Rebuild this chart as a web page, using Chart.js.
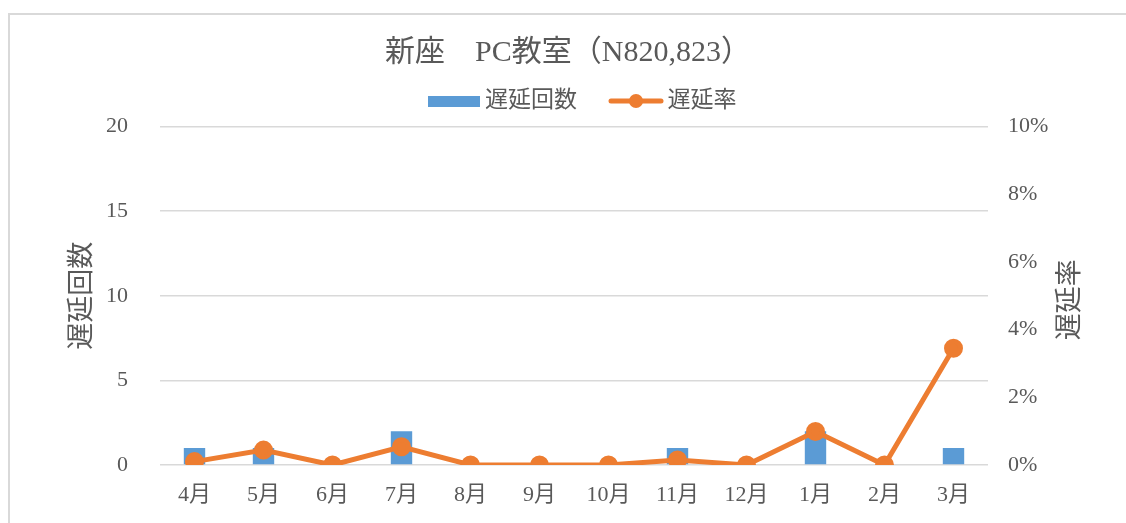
<!DOCTYPE html>
<html lang="ja">
<head>
    <meta charset="UTF-8">
    <title>新座 PC教室（N820,823）</title>
    <script src="https://cdn.jsdelivr.net/npm/chart.js"></script>
    <style>
        html, body { margin: 0; padding: 0; background: #fff; overflow: hidden; }
        .chart-box {
            position: absolute;
            left: 8px;
            top: 13px;
            width: 1130px;
            height: 520px;
            border: 2px solid #d9d9d9;
            background: #fff;
        }
        .chart-wrap {
            position: absolute;
            left: 0;
            top: 0;
            width: 1116px;
            height: 508px;
        }
    </style>
</head>
<body>
    <div class="chart-box">
        <div class="chart-wrap"><canvas id="delayChart"></canvas></div>
    </div>

    <script>
        // data
        const months = ['4月', '5月', '6月', '7月', '8月', '9月', '10月', '11月', '12月', '1月', '2月', '3月'];
        const delayCounts = [1, 1, 0, 2, 0, 0, 0, 1, 0, 2, 0, 1];
        const delayRates = [0.001, 0.0044, 0, 0.0054, 0, 0, 0, 0.0015, 0, 0.0099, 0, 0.0345];
        const countTicks = [0, 5, 10, 15, 20];
        const rateTicks = [0, 0.02, 0.04, 0.06, 0.08, 0.1];

        const serif = "'Liberation Serif', 'DejaVu Serif', 'Noto Sans CJK JP', serif";
        const gray = '#595959';
        const blue = '#5b9bd5';
        const orange = '#ed7d31';

        // legend markers (bar box and line with dot)
        function barMarker() {
            const c = document.createElement('canvas');
            c.width = 52; c.height = 11;
            const ctx = c.getContext('2d');
            ctx.fillStyle = blue;
            ctx.fillRect(0, 0, 52, 11);
            return c;
        }
        function lineMarker() {
            const c = document.createElement('canvas');
            c.width = 56; c.height = 16;
            const ctx = c.getContext('2d');
            ctx.strokeStyle = orange;
            ctx.lineWidth = 5;
            ctx.lineCap = 'round';
            ctx.beginPath();
            ctx.moveTo(3, 8); ctx.lineTo(53, 8);
            ctx.stroke();
            ctx.fillStyle = orange;
            ctx.beginPath();
            ctx.arc(28, 8, 7, 0, Math.PI * 2);
            ctx.fill();
            return c;
        }

        // small layout tweaks: a bit more room under the legend, legend nudged right
        const legendTweak = {
            id: 'legendTweak',
            beforeLayout(chart) {
                const lg = chart.legend;
                if (lg && !lg._patched) {
                    const fit = lg.fit;
                    lg.fit = function () { fit.call(this); this.height += 4; };
                    lg._patched = true;
                }
            },
            afterLayout(chart) {
                chart.legend.left += 17;
                chart.legend.right += 17;
            }
        };

        // axis titles, both read bottom to top like the original
        const axisTitles = {
            id: 'axisTitles',
            afterDraw(chart) {
                const ctx = chart.ctx;
                const area = chart.chartArea;
                const midY = (area.top + area.bottom) / 2;
                ctx.save();
                ctx.fillStyle = gray;
                ctx.font = "27px 'Noto Sans CJK JP', sans-serif";
                ctx.textAlign = 'center';
                ctx.textBaseline = 'middle';
                [[70, midY, '遅延回数'], [1058, midY + 4, '遅延率']].forEach(([x, y, text]) => {
                    ctx.save();
                    ctx.translate(x, y);
                    ctx.rotate(-Math.PI / 2);
                    ctx.fillText(text, 0, 0);
                    ctx.restore();
                });
                ctx.restore();
            }
        };

        new Chart(document.getElementById('delayChart'), {
            data: {
                labels: months,
                datasets: [{
                    type: 'line',
                    label: '遅延率',
                    data: delayRates,
                    yAxisID: 'yRate',
                    borderColor: orange,
                    backgroundColor: orange,
                    borderWidth: 5,
                    pointRadius: 7,
                    pointHoverRadius: 7,
                    pointBackgroundColor: orange,
                    pointBorderColor: orange,
                    tension: 0,
                    order: 0
                }, {
                    type: 'bar',
                    label: '遅延回数',
                    data: delayCounts,
                    yAxisID: 'yCount',
                    backgroundColor: blue,
                    barPercentage: 0.31,
                    categoryPercentage: 1,
                    order: 1
                }]
            },
            options: {
                responsive: true,
                maintainAspectRatio: false,
                animation: false,
                layout: { padding: 0 },
                plugins: {
                    title: {
                        display: true,
                        text: '新座　PC教室（N820,823）',
                        color: gray,
                        font: { family: serif, size: 30, weight: 'normal' },
                        padding: { top: 20, bottom: -20.5 }
                    },
                    legend: {
                        display: true,
                        labels: {
                            color: gray,
                            font: { family: serif, size: 23 },
                            usePointStyle: true,
                            pointStyleWidth: 40,
                            boxHeight: 16,
                            padding: 39,
                            generateLabels() {
                                return [
                                    { text: '遅延回数', pointStyle: barMarker(), fontColor: gray, datasetIndex: 1, lineWidth: 0 },
                                    { text: '遅延率', pointStyle: lineMarker(), fontColor: gray, datasetIndex: 0, lineWidth: 0 }
                                ];
                            }
                        }
                    },
                    tooltip: { enabled: false }
                },
                scales: {
                    x: {
                        grid: { display: false, drawTicks: false },
                        border: { display: false },
                        ticks: { color: gray, font: { family: serif, size: 22 }, padding: 17 },
                        afterFit(scale) { scale.height = 58; }
                    },
                    yCount: {
                        position: 'left',
                        min: 0,
                        max: 20,
                        afterBuildTicks(scale) { scale.ticks = countTicks.map(v => ({ value: v })); },
                        grid: { color: '#d9d9d9', lineWidth: 1.5, drawTicks: false },
                        border: { display: false },
                        ticks: { color: gray, font: { family: serif, size: 22 }, padding: 32 },
                        afterFit(scale) { scale.width = 150; }
                    },
                    yRate: {
                        position: 'right',
                        min: 0,
                        max: 0.1,
                        afterBuildTicks(scale) { scale.ticks = rateTicks.map(v => ({ value: v })); },
                        grid: { display: false, drawTicks: false },
                        border: { display: false },
                        ticks: {
                            color: gray,
                            font: { family: serif, size: 22 },
                            padding: 20,
                            callback: v => Math.round(v * 100) + '%'
                        },
                        afterFit(scale) { scale.width = 138; }
                    }
                }
            },
            plugins: [legendTweak, axisTitles]
        });
    </script>
</body>
</html>
